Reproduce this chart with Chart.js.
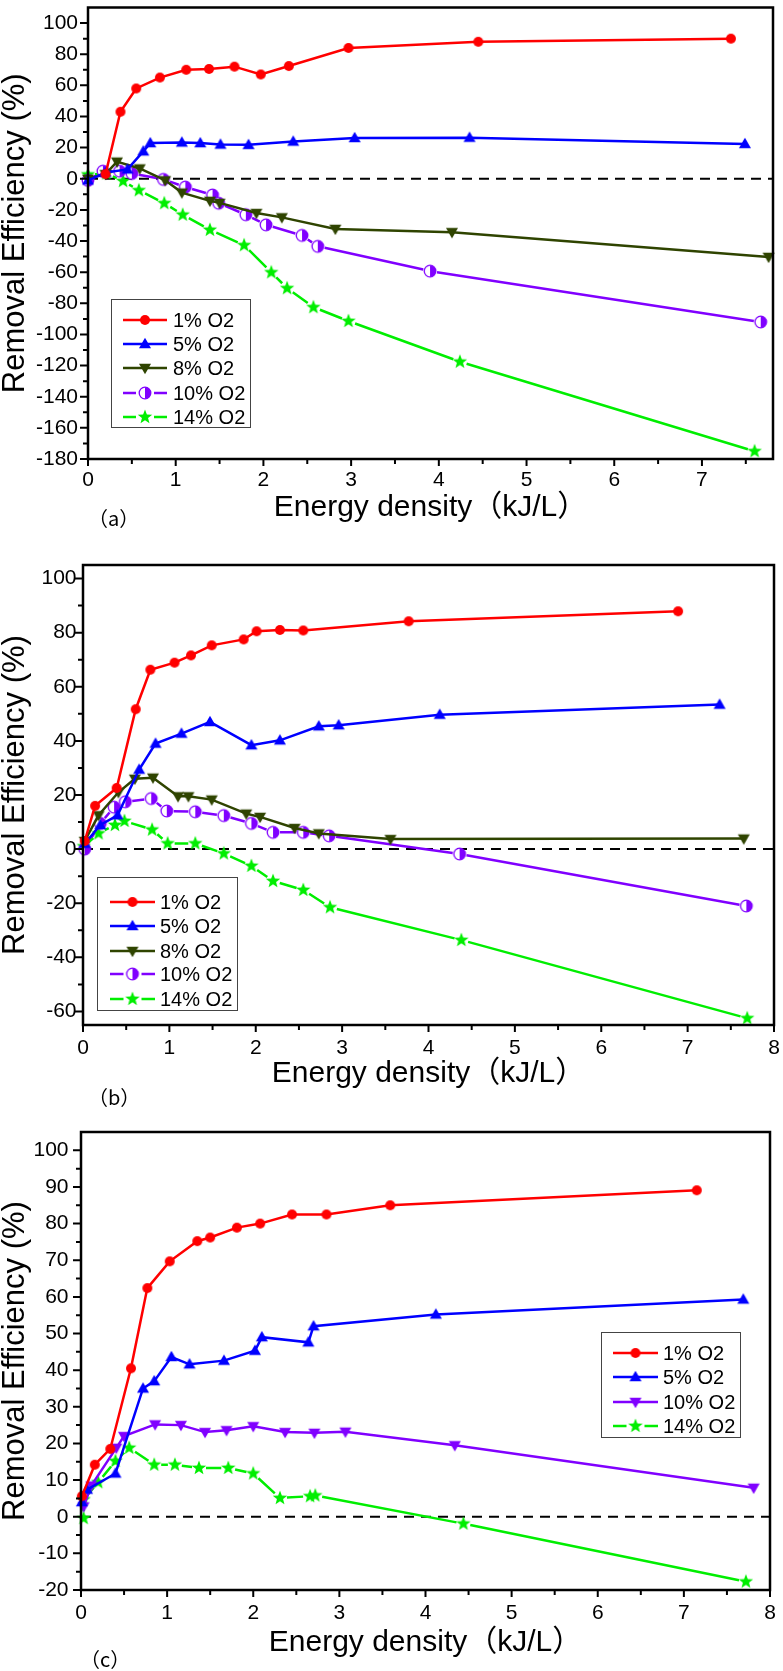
<!DOCTYPE html>
<html>
<head>
<meta charset="utf-8">
<script src="https://cdn.jsdelivr.net/npm/chart.js@4.4.1/dist/chart.umd.min.js"></script>
<style>
  body { margin: 0; background: #fff; width: 783px; height: 1671px; position: relative; overflow: hidden; }
  canvas { position: absolute; left: 0; display: block; }
  .tag { position: absolute; font: 20px "Noto Sans CJK SC", sans-serif; line-height: 20px; color: #000; }
</style>
</head>
<body>
<canvas id="chartA" width="783" height="540" style="top:0"></canvas>
<canvas id="chartB" width="783" height="560" style="top:540px"></canvas>
<canvas id="chartC" width="783" height="571" style="top:1100px"></canvas>
<div class="tag" style="left:88px;top:508px">（a）</div>
<div class="tag" style="left:88px;top:1087px">（b）</div>
<div class="tag" style="left:80px;top:1649px">（c）</div>
<script>
const FONT = '"Liberation Sans", Arial, "Noto Sans CJK SC", sans-serif';
const seriesNames = ['1% O2', '5% O2', '8% O2', '10% O2', '14% O2'];
const yTitle = 'Removal Efficiency (%)';
const xTitle = 'Energy density（kJ/L）';

// panel (a)
const aRedX = [0.2, 0.37, 0.55, 0.82, 1.12, 1.38, 1.67, 1.97, 2.29, 2.97, 4.45, 7.33];
const aRedY = [3, 43, 58, 65, 70, 70.5, 72, 67, 72.4, 84, 88, 90];
const aBlueX = [0, 0.2, 0.45, 0.63, 0.71, 1.07, 1.28, 1.51, 1.83, 2.34, 3.04, 4.35, 7.49];
const aBlueY = [-1, 4, 6, 17.6, 22.9, 23.3, 22.9, 22, 21.8, 23.9, 26.2, 26.4, 22.4];
const aOliveX = [0, 0.2, 0.33, 0.59, 0.88, 1.07, 1.39, 1.5, 1.92, 2.21, 2.82, 4.15, 7.76];
const aOliveY = [0, 3, 11, 6.6, -1, -8.9, -14.2, -15.5, -22, -24.8, -32.2, -34.3, -50.2];
const aVioletX = [0, 0.17, 0.36, 0.5, 0.86, 1.11, 1.42, 1.49, 1.8, 2.03, 2.44, 2.62, 3.9, 7.67];
const aVioletY = [-1, 4.9, 4.9, 3.4, -0.4, -5.3, -10.4, -15.7, -23.1, -29.6, -36.4, -43.4, -59.3, -92];
const aGreenX = [0, 0.21, 0.4, 0.58, 0.87, 1.08, 1.39, 1.78, 2.09, 2.27, 2.57, 2.97, 4.24, 7.6];
const aGreenY = [2.7, 3.4, -1.5, -7.4, -15.7, -23.1, -32.8, -42.7, -60.1, -70.3, -82.5, -91.4, -117.5, -175];
const aYTicks = [-180, -160, -140, -120, -100, -80, -60, -40, -20, 0, 20, 40, 60, 80, 100];
const aXTicks = [0, 1, 2, 3, 4, 5, 6, 7];

// panel (b)
const bRedX = [0.02, 0.14, 0.39, 0.61, 0.78, 1.06, 1.25, 1.49, 1.86, 2.01, 2.28, 2.55, 3.77, 6.89];
const bRedY = [3, 16, 22.6, 51.7, 66.3, 68.9, 71.6, 75.3, 77.5, 80.5, 81, 80.8, 84.2, 87.9];
const bBlueX = [0.02, 0.2, 0.4, 0.65, 0.84, 1.14, 1.47, 1.95, 2.28, 2.73, 2.96, 4.13, 7.37];
const bBlueY = [2, 8.9, 12.5, 29.4, 39, 42.7, 47, 38.4, 40.2, 45.4, 45.8, 49.7, 53.4];
const bOliveX = [0.02, 0.18, 0.41, 0.6, 0.81, 1.1, 1.22, 1.49, 1.89, 2.05, 2.45, 2.73, 3.56, 7.65];
const bOliveY = [3, 12.5, 21, 26, 26.4, 19.5, 19.5, 18.3, 13.1, 11.9, 7.8, 5.8, 3.7, 3.9];
const bVioletX = [0.02, 0.2, 0.36, 0.49, 0.79, 0.97, 1.3, 1.63, 1.95, 2.2, 2.55, 2.85, 4.36, 7.68];
const bVioletY = [0, 9.5, 15.5, 17.5, 18.7, 14.1, 13.8, 12.4, 9.5, 6.2, 6.2, 4.9, -1.8, -21];
const bGreenX = [0.01, 0.18, 0.37, 0.48, 0.8, 0.98, 1.3, 1.63, 1.95, 2.2, 2.55, 2.86, 4.38, 7.69];
const bGreenY = [1, 5.8, 8.9, 10.4, 7.2, 2.1, 2.1, -1.6, -6.2, -11.8, -15.1, -21.5, -33.6, -62.5];
const bYTicks = [-60, -40, -20, 0, 20, 40, 60, 80, 100];
const bXTicks = [0, 1, 2, 3, 4, 5, 6, 7, 8];

// panel (c) - no 8% series
const cRedX = [0.01, 0.16, 0.34, 0.58, 0.77, 1.03, 1.35, 1.5, 1.81, 2.08, 2.45, 2.85, 3.59, 7.15];
const cRedY = [5.6, 14.2, 18.5, 40.5, 62.4, 69.7, 75.2, 76.2, 78.9, 80, 82.5, 82.5, 85, 89.1];
const cBlueX = [0.01, 0.07, 0.4, 0.72, 0.85, 1.05, 1.26, 1.66, 2.02, 2.1, 2.64, 2.7, 4.12, 7.69];
const cBlueY = [4, 7.4, 11.8, 35, 37, 43.6, 41.6, 42.6, 45.3, 49, 47.6, 52, 55.2, 59.3];
const cVioletX = [0.03, 0.12, 0.41, 0.5, 0.86, 1.16, 1.44, 1.69, 2.0, 2.37, 2.71, 3.07, 4.34, 7.81];
const cVioletY = [2.8, 8.5, 18.8, 22, 25.2, 25, 23.1, 23.6, 24.7, 23.1, 22.9, 23.2, 19.5, 7.9];
const cGreenX = [0.03, 0.03, 0.2, 0.4, 0.56, 0.85, 1.09, 1.37, 1.71, 2.0, 2.31, 2.66, 2.72, 4.44, 7.72];
const cGreenY = [-0.4, 4.7, 9.4, 15.2, 18.8, 14.2, 14.2, 13.3, 13.3, 11.8, 5.1, 5.6, 5.8, -1.9, -17.7];
const cYTicks = [-20, -10, 0, 10, 20, 30, 40, 50, 60, 70, 80, 90, 100];
const cXTicks = [0, 1, 2, 3, 4, 5, 6, 7, 8];

const RED = '#ff0000', BLUE = '#0000ff', OLIVE = '#2f4400', VIOLET = '#8000ff', GREEN = '#00ee00';

function makeMarker(kind, color) {
  const c = document.createElement('canvas');
  c.width = 18; c.height = 18;
  const g = c.getContext('2d');
  const m = 9;
  g.fillStyle = color; g.strokeStyle = color;
  g.beginPath();
  if (kind === 'circle') {
    g.arc(m, m, 5, 0, Math.PI * 2); g.fill();
  } else if (kind === 'up') {
    g.moveTo(m, m - 6.2); g.lineTo(m + 6, m + 4.3); g.lineTo(m - 6, m + 4.3); g.closePath(); g.fill();
  } else if (kind === 'down') {
    g.moveTo(m, m + 6.2); g.lineTo(m + 6, m - 4.3); g.lineTo(m - 6, m - 4.3); g.closePath(); g.fill();
  } else if (kind === 'half') {
    g.arc(m, m, 5.8, 0, Math.PI * 2); g.fillStyle = '#fff'; g.fill();
    g.beginPath(); g.arc(m, m, 5.8, -Math.PI / 2, Math.PI / 2); g.closePath(); g.fillStyle = color; g.fill();
    g.beginPath(); g.arc(m, m, 5.8, 0, Math.PI * 2); g.lineWidth = 1.3; g.stroke();
  } else if (kind === 'star') {
    for (let i = 0; i < 10; i++) {
      const r = i % 2 ? 3.2 : 7.6;
      const a = -Math.PI / 2 + i * Math.PI / 5;
      g.lineTo(m + r * Math.cos(a), m + r * Math.sin(a));
    }
    g.closePath(); g.fill();
  }
  return c;
}

function onStep(v, step) {
  return Math.abs(v / step - Math.round(v / step)) < 1e-6;
}

const framePlugin = {
  id: 'frame',
  beforeDatasetsDraw(chart) {
    const { ctx, chartArea: a, scales: { y } } = chart;
    const y0 = y.getPixelForValue(0);
    ctx.save();
    ctx.strokeStyle = '#000';
    ctx.lineWidth = 2;
    ctx.setLineDash([10, 7]);
    ctx.beginPath(); ctx.moveTo(a.left, y0); ctx.lineTo(a.right, y0); ctx.stroke();
    ctx.restore();

    // Origin-style lines that stop short of each symbol (10% and 14% series)
    const GAP = 7;
    ctx.save();
    chart.data.datasets.forEach((ds, i) => {
      if (!ds.gapped) return;
      const pts = chart.getDatasetMeta(i).data;
      ctx.strokeStyle = ds.borderColor;
      ctx.lineWidth = 2.5;
      ctx.beginPath();
      for (let k = 1; k < pts.length; k++) {
        const p = pts[k - 1], q = pts[k];
        const dx = q.x - p.x, dy = q.y - p.y;
        const d = Math.hypot(dx, dy);
        if (d <= 2 * GAP + 1) continue;
        const ux = dx / d, uy = dy / d;
        ctx.moveTo(p.x + ux * GAP, p.y + uy * GAP);
        ctx.lineTo(q.x - ux * GAP, q.y - uy * GAP);
      }
      ctx.stroke();
    });
    ctx.restore();
  },
  afterDraw(chart, args, opts) {
    const { ctx, chartArea: a, scales: { x, y } } = chart;
    ctx.save();
    ctx.strokeStyle = '#000';
    ctx.lineWidth = 2.5;
    ctx.strokeRect(a.left, a.top, a.right - a.left, a.bottom - a.top);

    // outward ticks, major and minor
    ctx.lineWidth = 2;
    ctx.beginPath();
    for (let v = Math.ceil(x.min / opts.xMinor) * opts.xMinor; v <= x.max + 1e-9; v += opts.xMinor) {
      const px = x.getPixelForValue(v);
      const len = onStep(v, opts.xMajor) ? 7 : 5;
      ctx.moveTo(px, a.bottom); ctx.lineTo(px, a.bottom + len);
    }
    for (let v = Math.ceil(y.min / opts.yMinor) * opts.yMinor; v < y.max - 1e-6; v += opts.yMinor) {
      const py = y.getPixelForValue(v);
      const len = onStep(v, opts.yMajor) ? 8 : 5;
      ctx.moveTo(a.left, py); ctx.lineTo(a.left - len, py);
    }
    ctx.stroke();

    // legend in the Origin style: line sample with the symbol in the middle
    const L = opts.legend;
    ctx.lineWidth = 1;
    ctx.strokeStyle = '#444';
    ctx.strokeRect(L.left + 0.5, L.top + 0.5, L.width, L.height);
    ctx.font = '20px ' + FONT;
    ctx.textBaseline = 'middle';
    ctx.textAlign = 'left';
    chart.data.datasets.forEach((ds, i) => {
      const ry = L.rowY[i];
      const mid = (L.x1 + L.x2) / 2;
      ctx.strokeStyle = ds.borderColor;
      ctx.lineWidth = 2.5;
      ctx.beginPath();
      if (ds.gapped) {
        ctx.moveTo(L.x1, ry); ctx.lineTo(mid - 9, ry);
        ctx.moveTo(mid + 9, ry); ctx.lineTo(L.x2, ry);
      } else {
        ctx.moveTo(L.x1, ry); ctx.lineTo(L.x2, ry);
      }
      ctx.stroke();
      const img = ds.pointStyle;
      ctx.drawImage(img, mid - img.width / 2, ry - img.height / 2);
      ctx.fillStyle = '#000';
      ctx.fillText(ds.label, L.tx, ry + 1);
    });
    ctx.restore();
  }
};

function series(name, xs, ys, color, marker, gapped) {
  return {
    label: name,
    data: xs.map((x, i) => ({ x: x, y: ys[i] })),
    borderColor: color,
    backgroundColor: color,
    borderWidth: 2.5,
    showLine: !gapped,
    pointStyle: makeMarker(marker, color),
    pointRadius: 5,
    tension: 0,
    clip: false,
    gapped: gapped
  };
}

function buildChart(id, cfg) {
  return new Chart(document.getElementById(id), {
    type: 'line',
    data: { datasets: cfg.datasets },
    options: {
      responsive: false,
      animation: false,
      events: [],
      layout: { padding: cfg.pad },
      plugins: {
        legend: { display: false },
        tooltip: { enabled: false },
        frame: cfg.frame
      },
      scales: {
        x: {
          type: 'linear',
          min: 0,
          max: cfg.xMax,
          grid: { display: false, drawTicks: false },
          border: { display: false },
          afterBuildTicks: s => { s.ticks = cfg.xTicks.map(v => ({ value: v })); },
          afterFit: s => { s.height = cfg.xH; s.paddingLeft = 0; s.paddingRight = 0; },
          ticks: { padding: cfg.xPad, color: '#000', font: { family: FONT, size: 21 }, callback: v => String(v) },
          title: { display: true, text: xTitle, color: '#000', font: { family: FONT, size: 30, lineHeight: 1 }, padding: { top: 0, bottom: cfg.xTitlePad } }
        },
        y: {
          min: cfg.yMin,
          max: cfg.yMax,
          grid: { display: false, drawTicks: false },
          border: { display: false },
          afterBuildTicks: s => { s.ticks = cfg.yTicks.map(v => ({ value: v })); },
          afterFit: s => { s.width = cfg.yW; s.paddingTop = 0; s.paddingBottom = 0; },
          ticks: { padding: cfg.yPad, color: '#000', font: { family: FONT, size: 21 }, callback: v => String(v) },
          title: { display: true, text: yTitle, color: '#000', font: { family: FONT, size: 31, lineHeight: 1 }, padding: { top: 0, bottom: 0 } }
        }
      }
    },
    plugins: [framePlugin]
  });
}

buildChart('chartA', {
  datasets: [
    series(seriesNames[0], aRedX, aRedY, RED, 'circle', false),
    series(seriesNames[1], aBlueX, aBlueY, BLUE, 'up', false),
    series(seriesNames[2], aOliveX, aOliveY, OLIVE, 'down', false),
    series(seriesNames[3], aVioletX, aVioletY, VIOLET, 'half', true),
    series(seriesNames[4], aGreenX, aGreenY, GREEN, 'star', true)
  ],
  pad: { top: 3, right: 10, left: 0, bottom: 0 },
  xMax: 7.81, xTicks: aXTicks, xH: 81, xPad: 9, xTitlePad: 17,
  yMin: -180, yMax: 110, yTicks: aYTicks, yW: 88, yPad: 10,
  frame: {
    xMinor: 0.5, xMajor: 1, yMinor: 10, yMajor: 20,
    legend: { left: 111, top: 299, width: 139, height: 128, x1: 123, x2: 167, tx: 173, rowY: [320, 344, 368, 393, 417] }
  }
});

buildChart('chartB', {
  datasets: [
    series(seriesNames[0], bRedX, bRedY, RED, 'circle', false),
    series(seriesNames[1], bBlueX, bBlueY, BLUE, 'up', false),
    series(seriesNames[2], bOliveX, bOliveY, OLIVE, 'down', false),
    series(seriesNames[3], bVioletX, bVioletY, VIOLET, 'half', true),
    series(seriesNames[4], bGreenX, bGreenY, GREEN, 'star', true)
  ],
  pad: { top: 25, right: 9, left: 0, bottom: 0 },
  xMax: 8, xTicks: bXTicks, xH: 75, xPad: 10.5, xTitlePad: 11,
  yMin: -65, yMax: 105, yTicks: bYTicks, yW: 83, yPad: 6.5,
  frame: {
    xMinor: 0.5, xMajor: 1, yMinor: 10, yMajor: 20,
    legend: { left: 97, top: 337, width: 140, height: 133, x1: 110, x2: 155, tx: 160, rowY: [362, 386, 411, 434, 459] }
  }
});

buildChart('chartC', {
  datasets: [
    series(seriesNames[0], cRedX, cRedY, RED, 'circle', false),
    series(seriesNames[1], cBlueX, cBlueY, BLUE, 'up', false),
    series(seriesNames[3], cVioletX, cVioletY, VIOLET, 'down', false),
    series(seriesNames[4], cGreenX, cGreenY, GREEN, 'star', true)
  ],
  pad: { top: 32, right: 13, left: 0, bottom: 0 },
  xMax: 8, xTicks: cXTicks, xH: 81, xPad: 10.5, xTitlePad: 13,
  yMin: -20, yMax: 105, yTicks: cYTicks, yW: 81, yPad: 12.5,
  frame: {
    xMinor: 0.5, xMajor: 1, yMinor: 5, yMajor: 10,
    legend: { left: 601, top: 232, width: 139, height: 105, x1: 613, x2: 658, tx: 663, rowY: [253, 277, 302, 326] }
  }
});
</script>
</body>
</html>
